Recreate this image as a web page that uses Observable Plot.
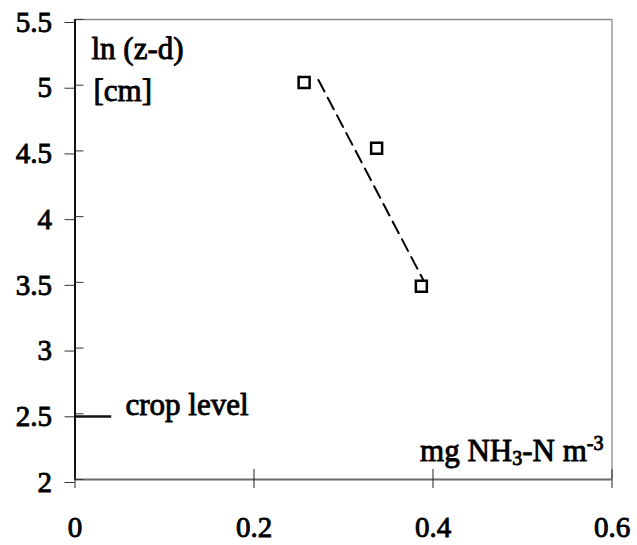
<!DOCTYPE html>
<html><head><meta charset="utf-8">
<script src="https://cdn.jsdelivr.net/npm/d3@7"></script>
<script src="https://cdn.jsdelivr.net/npm/@observablehq/plot@0.6"></script>
</head><body style="margin:0;background:#fff"><div id="chart"></div>
<script>
const concX = [0.256, 0.337, 0.387];
const lnZd = [5.02, 4.52, 3.47];
const fitX = [0.272, 0.389];
const fitY = [5.04, 3.52];
const cropLevel = [2.48];
const cropX = [0, 0.041];
const xTicks = [0, 0.2, 0.4, 0.6];
const xTickLabels = ["0", "0.2", "0.4", "0.6"];
const yTicks = [2, 2.5, 3, 3.5, 4, 4.5, 5, 5.5];
const yTickLabels = ["2", "2.5", "3", "3.5", "4", "4.5", "5", "5.5"];
const yLabel1 = "ln (z-d)";
const yLabel2 = "[cm]";
const cropLabel = "crop level";
const xLabelParts = ["mg NH", "3", "-N m", "-3"];

const points = concX.map((x, i) => ({x, y: lnZd[i]}));
const fit = fitX.map((x, i) => ({x, y: fitY[i]}));

const font = "Liberation Serif";
const heavy = 0.9;

const chart = Plot.plot({
  width: 637,
  height: 545,
  marginLeft: 74.5,
  marginRight: 25.5,
  marginTop: 19,
  marginBottom: 66,
  style: {background: "white", color: "black", fontFamily: font},
  x: {domain: [0, 0.6], label: null},
  y: {domain: [2, 5.5], label: null},
  marks: [
    Plot.ruleY([5.5], {stroke: "#8a8a8a", strokeWidth: 1.5}),
    Plot.ruleX([0.6], {stroke: "#9a9a9a", strokeWidth: 1.5}),
    Plot.ruleY([2], {stroke: "#6a6a6a", strokeWidth: 2}),
    Plot.ruleX([0], {stroke: "#111", strokeWidth: 2}),
    Plot.axisX(xTicks, {tickSize: 9, tickPadding: 28, fontSize: 29, fontFamily: font, stroke: "#222", label: null,
      tickFormat: d => xTickLabels[xTicks.indexOf(d)]}),
    Plot.axisX(xTicks, {tickSize: -10, text: null, stroke: "#222", label: null}),
    Plot.axisY(yTicks, {tickSize: 10, tickPadding: 13, fontSize: 29, fontFamily: font, dy: 3, stroke: "#333", label: null,
      tickFormat: d => yTickLabels[yTicks.indexOf(d)]}),
    Plot.axisY(yTicks, {tickSize: -9, text: null, stroke: "#333", label: null}),
    Plot.ruleY(cropLevel, {x1: cropX[0], x2: cropX[1], stroke: "#111", strokeWidth: 2.5}),
    Plot.line(fit, {x: "x", y: "y", stroke: "black", strokeWidth: 2, strokeDasharray: "13,7"}),
    Plot.dot(points, {x: "x", y: "y", symbol: "square", r: 6.2, stroke: "black", strokeWidth: 2.5, fill: "white"}),
    Plot.text([yLabel1], {text: d => d, frameAnchor: "top-left", dx: 16.5, dy: 39, textAnchor: "start", lineAnchor: "bottom", fontSize: 31, fontFamily: font, fill: "black", stroke: "black", strokeWidth: heavy}),
    Plot.text([yLabel2], {text: d => d, frameAnchor: "top-left", dx: 18.5, dy: 81, textAnchor: "start", lineAnchor: "bottom", fontSize: 31, fontFamily: font, fill: "black", stroke: "black", strokeWidth: heavy}),
    Plot.text([cropLabel], {text: d => d, frameAnchor: "bottom-left", dx: 50.5, dy: -65, textAnchor: "start", lineAnchor: "bottom", fontSize: 31, fontFamily: font, fill: "black", stroke: "black", strokeWidth: heavy}),
    Plot.text([xLabelParts.join("")], {text: d => d, frameAnchor: "bottom-right", dx: -8.5, dy: -19, textAnchor: "end", lineAnchor: "bottom", fontSize: 31, fontFamily: font, fill: "black", stroke: "black", strokeWidth: heavy})
  ]
});

// rebuild the x label with sub/superscripts
const full = xLabelParts.join("");
d3.select(chart).selectAll("text").filter(function() { return this.textContent === full; }).each(function() {
  const t = d3.select(this);
  t.text(null);
  t.append("tspan").text(xLabelParts[0]);
  t.append("tspan").attr("dy", 4).attr("font-size", 20).text(xLabelParts[1]);
  t.append("tspan").attr("dy", -4).text(xLabelParts[2]);
  t.append("tspan").attr("dy", -11).attr("font-size", 20).text(xLabelParts[3]);
});

// heavier tick labels
d3.select(chart).selectAll("g[aria-label$='tick label'] text").attr("stroke", "black").attr("stroke-width", heavy).attr("fill", "black");
d3.select(chart).selectAll("g[aria-label$='tick label']").attr("font-family", font).attr("stroke", "black").attr("stroke-width", heavy);

document.getElementById("chart").appendChild(chart);
</script>
</body></html>
